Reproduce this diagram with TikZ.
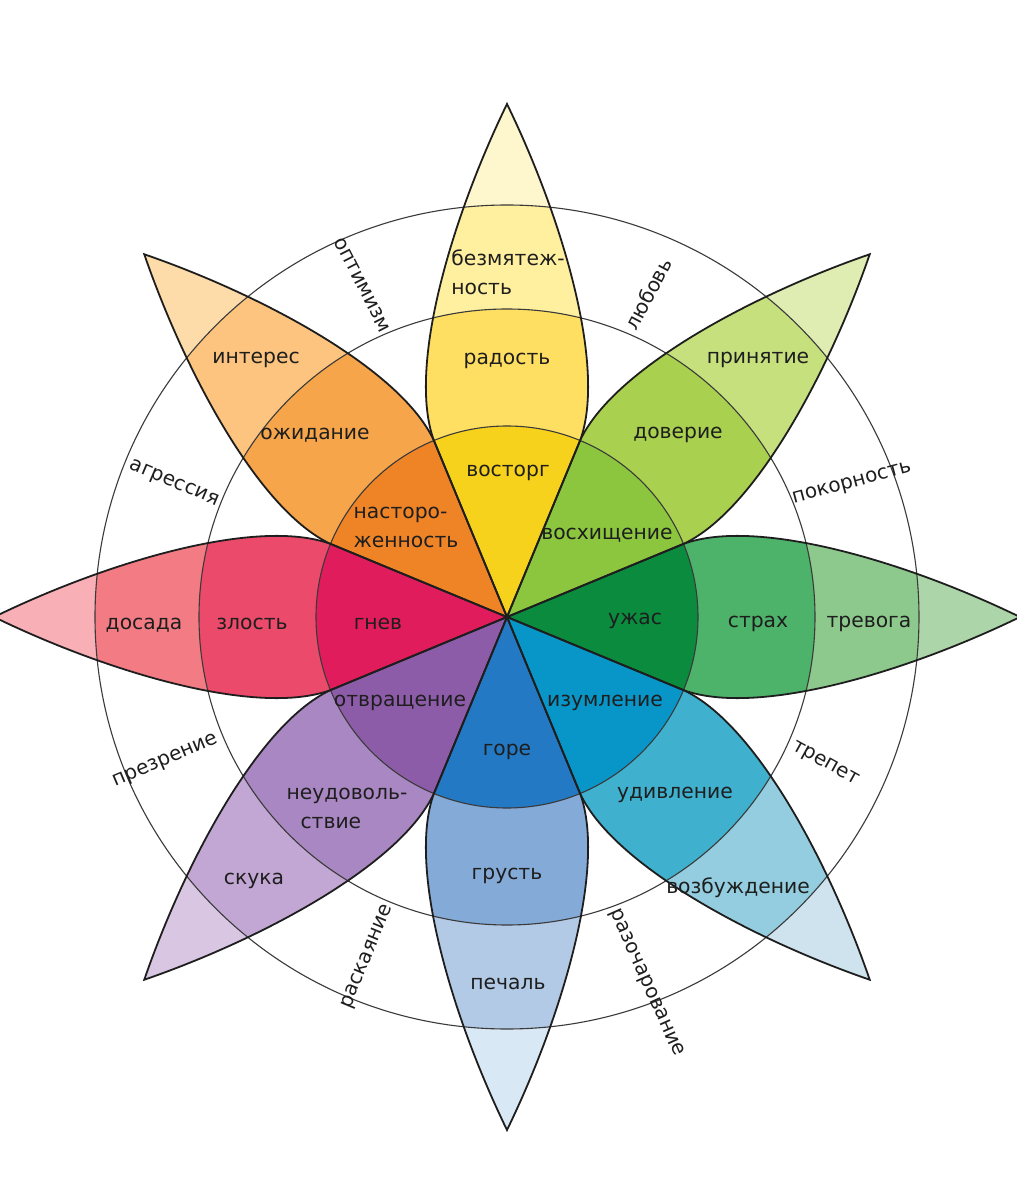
\documentclass[tikz,border=0pt]{standalone}
\usepackage{fontspec}
\setmainfont{DejaVu Sans}
% joy
\definecolor{joyA}{HTML}{F7D21C}\definecolor{joyB}{HTML}{FFDF62}\definecolor{joyC}{HTML}{FFF0A0}\definecolor{joyD}{HTML}{FEF6CC}
% trust
\definecolor{truA}{HTML}{8CC63E}\definecolor{truB}{HTML}{A9D04E}\definecolor{truC}{HTML}{C6E07E}\definecolor{truD}{HTML}{E0EDB2}
% fear
\definecolor{feaA}{HTML}{0A8B3E}\definecolor{feaB}{HTML}{4DB26A}\definecolor{feaC}{HTML}{8DC98D}\definecolor{feaD}{HTML}{ACD6A9}
% surprise
\definecolor{surA}{HTML}{0896C8}\definecolor{surB}{HTML}{3FB1CE}\definecolor{surC}{HTML}{93CDDF}\definecolor{surD}{HTML}{CFE3EE}
% sadness
\definecolor{sadA}{HTML}{2479C4}\definecolor{sadB}{HTML}{84AAD8}\definecolor{sadC}{HTML}{B2CAE6}\definecolor{sadD}{HTML}{D9E8F5}
% disgust
\definecolor{disA}{HTML}{8D5CA9}\definecolor{disB}{HTML}{A987C2}\definecolor{disC}{HTML}{C2A7D4}\definecolor{disD}{HTML}{D8C6E2}
% anger
\definecolor{angA}{HTML}{E11C5C}\definecolor{angB}{HTML}{EB4A6A}\definecolor{angC}{HTML}{F37C84}\definecolor{angD}{HTML}{F8AFB5}
% anticipation
\definecolor{antA}{HTML}{EF8427}\definecolor{antB}{HTML}{F6A54A}\definecolor{antC}{HTML}{FCC47E}\definecolor{antD}{HTML}{FDDCAA}
\definecolor{inkc}{HTML}{1E1E1E}
\definecolor{circc}{HTML}{3A3A3A}

\newcommand{\petalfill}[5]{%
\begin{scope}[rotate=#1]
\begin{scope}
\clip (0,0) -- (176.5,73.1) .. controls (250,100) and (400,55) .. (513,0) .. controls (400,-55) and (250,-100) .. (176.5,-73.1) -- cycle;
\fill[#5] (0,0) circle (520);
\fill[#4] (0,0) circle (412);
\fill[#3] (0,0) circle (308);
\fill[#2] (0,0) circle (191);
\end{scope}
\end{scope}}
\newcommand{\petaloutline}[1]{%
\draw[petalline,rotate=#1] (0,0) -- (176.5,73.1) .. controls (250,100) and (400,55) .. (513,0) .. controls (400,-55) and (250,-100) .. (176.5,-73.1) -- cycle;}

\begin{document}
\begin{tikzpicture}[x=1pt,y=1pt,
  petalline/.style={draw=inkc,line width=1.8pt,line join=miter},
  circline/.style={draw=circc,line width=1.1pt},
  lbl/.style={text=inkc,font=\fontsize{20.3}{29}\selectfont,inner sep=0pt},
  dyad/.style={text=inkc,font=\fontsize{20}{24}\selectfont,inner sep=0pt}]
\useasboundingbox (-507,-583) rectangle (510,617);
\fill[white] (-507,-583) rectangle (510,617);

\petalfill{90}{joyA}{joyB}{joyC}{joyD}
\petalfill{45}{truA}{truB}{truC}{truD}
\petalfill{0}{feaA}{feaB}{feaC}{feaD}
\petalfill{-45}{surA}{surB}{surC}{surD}
\petalfill{-90}{sadA}{sadB}{sadC}{sadD}
\petalfill{-135}{disA}{disB}{disC}{disD}
\petalfill{180}{angA}{angB}{angC}{angD}
\petalfill{135}{antA}{antB}{antC}{antD}

\draw[circline] (0,0) circle (412);
\draw[circline] (0,0) circle (308);
\draw[circline] (0,0) circle (191);

\foreach \a in {90,45,0,-45,-90,-135,180,135}{\petaloutline{\a}}

% inner labels
\node[lbl] (vostorg) at (1,144) {восторг};
\node[lbl] (radost) at (0,256) {радость};
\node[lbl,align=left] (bezm) at (1,345) {безмятеж-\\ность};
\node[lbl] (voskh) at (100,82) {восхищение};
\node[lbl] (doverie) at (171,182) {доверие};
\node[lbl] (prin) at (251,257) {принятие};
\node[lbl] (uzhas) at (128,-4) {ужас};
\node[lbl] (strakh) at (251,-7) {страх};
\node[lbl] (trevoga) at (362,-7) {тревога};
\node[lbl] (izum) at (98,-86) {изумление};
\node[lbl] (udiv) at (168,-178) {удивление};
\node[lbl] (vozb) at (231,-271) {возбуждение};
\node[lbl] (gore) at (0,-135) {горе};
\node[lbl] (grust) at (0,-259) {грусть};
\node[lbl] (pechal) at (1,-367) {печаль};
\node[lbl] (otvr) at (-107,-86) {отвращение};
\node[lbl,align=left] (neud) at (-160,-191) {неудоволь-\\\hspace*{14pt}ствие};
\node[lbl] (skuka) at (-253,-264) {скука};
\node[lbl] (gnev) at (-129,-7) {гнев};
\node[lbl] (zlost) at (-255,-7) {злость};
\node[lbl] (dosada) at (-363,-8) {досада};
\node[lbl,align=left] (nast) at (-101,90) {насторо-\\женность};
\node[lbl] (ozhid) at (-192,182) {ожидание};
\node[lbl] (inter) at (-251,257) {интерес};

% dyads
\node[dyad,rotate=-63] (optim) at (-145,332) {оптимизм};
\node[dyad,rotate=62] (lyub) at (141,323) {любовь};
\node[dyad,rotate=15] (pokor) at (345,133) {покорность};
\node[dyad,rotate=-29] (trepet) at (318,-147) {трепет};
\node[dyad,rotate=-66] (razoch) at (139,-366) {разочарование};
\node[dyad,rotate=67.5] (raskay) at (-139,-340) {раскаяние};
\node[dyad,rotate=23] (prezr) at (-341,-144) {презрение};
\node[dyad,rotate=-23] (agres) at (-333,133) {агрессия};
\end{tikzpicture}
\end{document}
